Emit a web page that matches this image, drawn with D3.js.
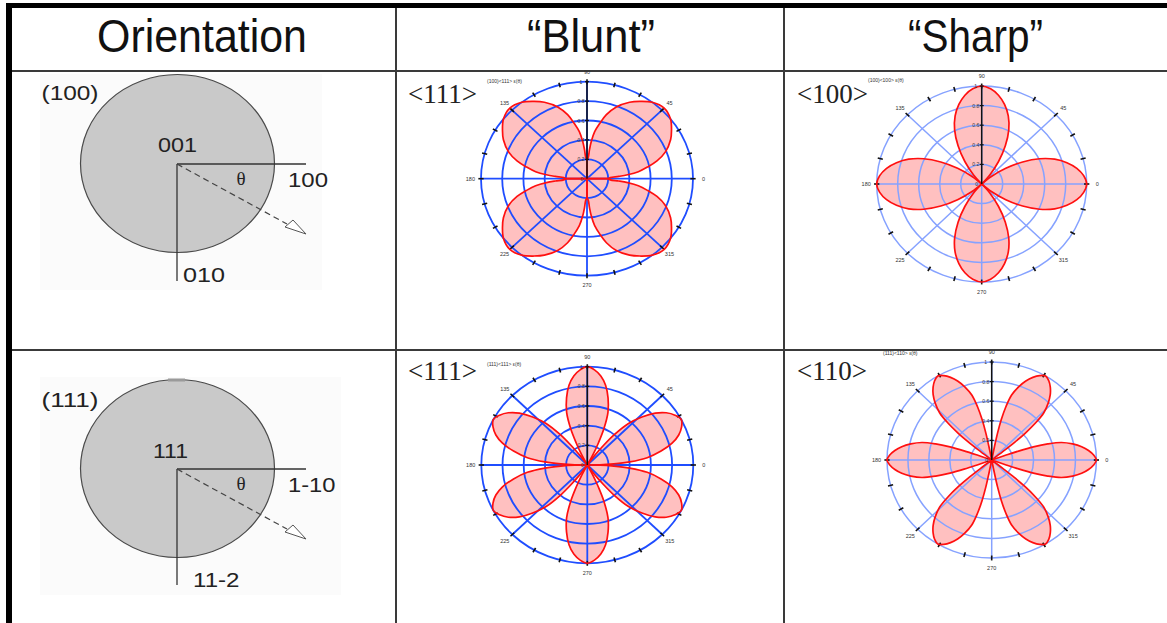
<!DOCTYPE html>
<html>
<head>
<meta charset="utf-8">
<script src="https://cdn.jsdelivr.net/npm/d3@7"></script>
<style>
  html, body { margin: 0; padding: 0; background: #fff; }
  svg { display: block; }
</style>
</head>
<body>
<svg id="chart" width="1167" height="623"></svg>
<script>
// ---- table text ----
const headers = ["Orientation", "\u201cBlunt\u201d", "\u201cSharp\u201d"];
const planeLabels = ["(100)", "(111)"];
const normalLabels = ["001", "111"];
const xDirLabels = ["100", "1-10"];
const yDirLabels = ["010", "11-2"];
const dirLabels = ["<111>", "<100>", "<111>", "<110>"];
const plotTitles = ["(100)<111> \u03b5(\u03b8)", "(100)<100> \u03b5(\u03b8)", "(111)<111> \u03b5(\u03b8)", "(111)<110> \u03b5(\u03b8)"];

// ---- polar axes ----
const angleTicks = [0, 45, 90, 135, 180, 225, 270, 315];
const minorAngles = [15, 30, 60, 75, 105, 120, 150, 165, 195, 210, 240, 255, 285, 300, 330, 345];
const radialTicks = [0.2, 0.4, 0.6, 0.8, 1];
const radialTickText = ["0.2", "0.4", "0.6", "0.8", "1"];

// ---- lobes: directions (deg) and half-profiles [offset deg, radius] ----
const bluntTopAxes = [45, 135, 225, 315];
const bluntTopProfile = [[0, 1.03], [7, 1.0], [13, 0.94], [18, 0.885], [24.5, 0.79], [29.5, 0.685], [33, 0.585], [36.5, 0.49], [39, 0.385], [40.5, 0.3], [42, 0.22], [45, 0.2]];
const sharpTopAxes = [0, 90, 180, 270];
const sharpTopProfile = [[0, 1.0], [5, 0.975], [10, 0.92], [15, 0.84], [20, 0.74], [25, 0.61], [30, 0.45], [35, 0.28], [40, 0.12], [45, 0]];
const bluntBotAxes = [27.5, 90, 152.5, 207.5, 270, 332.5];
const bluntBotProfile = [[0, 1.0], [4, 0.97], [8, 0.915], [12, 0.83], [16, 0.71], [20, 0.57], [23, 0.4], [25, 0.25], [27, 0.12], [28, 0]];
const sharpBotAxes = [0, 59, 121, 180, 239, 301];
const sharpBotProfile = [[0, 1.0], [3, 0.975], [6, 0.93], [9, 0.87], [12, 0.79], [15, 0.69], [17, 0.56], [18.5, 0.42], [19.5, 0.28], [20, 0.14], [20, 0]];

const svg = d3.select("#chart");
const sans = "Liberation Sans, Arial, sans-serif";

// ---- background ----
svg.append("rect").attr("x", 0).attr("y", 0).attr("width", 1167).attr("height", 623).attr("fill", "#fff");

// ---- orientation sketches ----
function orientation(i, oy) {
  const g = svg.append("g").attr("transform", `translate(0,${oy})`);
  const cx = 177, cy = 164;
  g.append("rect").attr("x", 40).attr("y", i === 0 ? 74 : 72).attr("width", i === 0 ? 282 : 301).attr("height", i === 0 ? 216 : 218)
    .attr("fill", "#fbfbfb");
  g.append("ellipse").attr("cx", cx + 0.5).attr("cy", 163.5)
    .attr("rx", 97).attr("ry", 89)
    .attr("fill", "#c9c9c9").attr("stroke", "#4a4a4a").attr("stroke-width", 1.2);
  if (i === 1) {
    g.append("rect").attr("x", 168).attr("y", 73.5).attr("width", 17).attr("height", 3).attr("fill", "#9a9a9a");
  }
  g.append("line").attr("x1", cx).attr("y1", cy).attr("x2", 306).attr("y2", cy).attr("stroke", "#333").attr("stroke-width", 1.3);
  g.append("line").attr("x1", cx).attr("y1", cy).attr("x2", cx).attr("y2", i === 0 ? 281 : 280).attr("stroke", "#333").attr("stroke-width", 1.3);
  g.append("line").attr("x1", cx).attr("y1", cy).attr("x2", 287).attr("y2", 224).attr("stroke", "#444").attr("stroke-width", 1.2).attr("stroke-dasharray", "6,4");
  g.append("path").attr("d", "M285,227 L293,220 L306,234 Z").attr("fill", "#fff").attr("stroke", "#555").attr("stroke-width", 1);
  const label = (txt, x, y, w, anchor) => g.append("text").attr("x", x).attr("y", y)
    .attr("text-anchor", anchor || "start")
    .attr("textLength", w).attr("lengthAdjust", "spacingAndGlyphs")
    .attr("font-family", sans).attr("font-size", 20).attr("fill", "#222").text(txt);
  label(planeLabels[i], 41.5, i === 0 ? 100 : 101.7, 57);
  label(normalLabels[i], i === 0 ? 158 : 153, i === 0 ? 151.7 : 153.3, i === 0 ? 39 : 35);
  g.append("text").attr("x", 241).attr("y", 185).attr("text-anchor", "middle").attr("font-family", "Liberation Serif, serif").attr("font-size", 19).attr("fill", "#222").text("\u03b8");
  label(xDirLabels[i], 288, i === 0 ? 186.7 : 186.7, i === 0 ? 40 : 47.5);
  label(yDirLabels[i], i === 0 ? 183 : 193, 281.7, i === 0 ? 42 : 46.5);
}
orientation(0, 0);
orientation(1, 305);

// ---- table rules ----
const lineColor = "#3a3a3a";
const grid = svg.append("g");
grid.append("line").attr("x1", 12).attr("x2", 1167).attr("y1", 71).attr("y2", 71).attr("stroke", lineColor).attr("stroke-width", 2);
grid.append("line").attr("x1", 12).attr("x2", 1167).attr("y1", 350).attr("y2", 350).attr("stroke", lineColor).attr("stroke-width", 2);
grid.append("line").attr("x1", 396).attr("x2", 396).attr("y1", 8).attr("y2", 623).attr("stroke", lineColor).attr("stroke-width", 2);
grid.append("line").attr("x1", 784).attr("x2", 784).attr("y1", 8).attr("y2", 623).attr("stroke", lineColor).attr("stroke-width", 2);
grid.append("rect").attr("x", 6).attr("y", 3).attr("width", 1161).attr("height", 5).attr("fill", "#000");
grid.append("rect").attr("x", 6).attr("y", 3).attr("width", 6).attr("height", 620).attr("fill", "#000");

// header row
const headerPos = [[202, 210], [591, 128], [975.5, 135]];
headers.forEach((h, i) => {
  svg.append("text")
    .attr("x", headerPos[i][0]).attr("y", 52)
    .attr("text-anchor", "middle")
    .attr("textLength", headerPos[i][1]).attr("lengthAdjust", "spacingAndGlyphs")
    .attr("font-family", sans)
    .attr("font-size", 47)
    .attr("fill", "#111")
    .text(h);
});

// ---- polar plots ----
function polarPlot(opt) {
  const g = svg.append("g");
  const xs = d3.scaleLinear().domain([-1, 1]).range([opt.cx - opt.rx, opt.cx + opt.rx]);
  const ys = d3.scaleLinear().domain([-1, 1]).range([opt.cy + opt.ry, opt.cy - opt.ry]);
  const rad = d => d * Math.PI / 180;
  const pt = (deg, r) => [xs(r * Math.cos(rad(deg))), ys(r * Math.sin(rad(deg)))];

  // lobe fills
  const line = d3.line().curve(d3.curveCatmullRom.alpha(0.5));
  const full = opt.profile.slice().reverse().map(([p, r]) => [-p, r]).concat(opt.profile.slice(1));
  const lobePaths = opt.axes.map(a => {
    const pts = full.map(([p, r]) => pt(a + p, r));
    let d = line(pts);
    if (opt.hub) d = `M${pt(0, 0).join(",")}L` + d.slice(1) + "Z";
    else d = d + "Z";
    return d;
  });
  g.selectAll("path.fill").data(lobePaths).join("path")
    .attr("d", d => d).attr("fill", "#ffc0c0").attr("stroke", "none");

  // grid rings
  g.selectAll("ellipse.ring").data(radialTicks).join("ellipse")
    .attr("cx", xs(0)).attr("cy", ys(0))
    .attr("rx", r => xs(r) - xs(0)).attr("ry", r => ys(0) - ys(r))
    .attr("fill", "none").attr("stroke", opt.grid).attr("stroke-width", opt.gw);
  // spokes
  g.selectAll("line.spoke").data(angleTicks).join("line")
    .attr("x1", xs(0)).attr("y1", ys(0))
    .attr("x2", a => pt(a, 1)[0]).attr("y2", a => pt(a, 1)[1])
    .attr("stroke", opt.grid).attr("stroke-width", opt.gw);
  // ticks on outer ring
  g.selectAll("line.minor").data(minorAngles.concat(angleTicks)).join("line")
    .attr("x1", a => pt(a, 0.975)[0]).attr("y1", a => pt(a, 0.975)[1])
    .attr("x2", a => pt(a, 1.025)[0]).attr("y2", a => pt(a, 1.025)[1])
    .attr("stroke", "#111").attr("stroke-width", 1.6);

  // lobe outlines
  g.selectAll("path.edge").data(lobePaths).join("path")
    .attr("d", d => d).attr("fill", "none").attr("stroke", "#ff1010").attr("stroke-width", 1.7).attr("stroke-linejoin", "round");

  // radial axis
  g.append("line").attr("x1", xs(0)).attr("y1", ys(0)).attr("x2", xs(0)).attr("y2", ys(1))
    .attr("stroke", "#111").attr("stroke-width", 1.5);
  g.selectAll("line.rt").data(radialTicks).join("line")
    .attr("x1", xs(0) - 2).attr("x2", xs(0) + 2).attr("y1", r => ys(r)).attr("y2", r => ys(r))
    .attr("stroke", "#111").attr("stroke-width", 1.2);
  g.selectAll("text.rt").data(radialTicks).join("text")
    .attr("x", xs(0) - 6).attr("y", r => ys(r) + 2)
    .attr("text-anchor", "middle").attr("font-family", sans).attr("font-size", 5).attr("fill", "#333")
    .text((r, i) => radialTickText[i]);
  g.append("text").attr("x", xs(0) - 5).attr("y", ys(0) + 2)
    .attr("text-anchor", "middle").attr("font-family", sans).attr("font-size", 5).attr("fill", "#333").text("0");

  // angle labels
  g.selectAll("text.ang").data(angleTicks).join("text")
    .attr("x", a => pt(a, 1.1)[0]).attr("y", a => pt(a, 1.1)[1] + 2)
    .attr("text-anchor", "middle").attr("font-family", sans).attr("font-size", 5.5).attr("fill", "#333")
    .text(a => a);

  // title and direction label
  g.append("text").attr("x", opt.tx).attr("y", opt.ty)
    .attr("font-family", sans).attr("font-size", 5).attr("fill", "#333").text(opt.title);
  g.append("text").attr("x", opt.lx).attr("y", opt.ly)
    .attr("font-family", "Liberation Serif, Times New Roman, serif").attr("font-size", 27).attr("fill", "#222").text(opt.label);
}

polarPlot({ cx: 587, cy: 178.7, rx: 106, ry: 97, axes: bluntTopAxes, profile: bluntTopProfile, hub: true,
  grid: "#1f4dff", gw: 1.8, title: plotTitles[0], tx: 487, ty: 83, label: dirLabels[0], lx: 408, ly: 103 });
polarPlot({ cx: 981.7, cy: 184, rx: 105, ry: 98, axes: sharpTopAxes, profile: sharpTopProfile, hub: false,
  grid: "#86a2ff", gw: 1.5, title: plotTitles[1], tx: 868, ty: 82, label: dirLabels[1], lx: 797, ly: 103 });
polarPlot({ cx: 587.3, cy: 465, rx: 106, ry: 98.3, axes: bluntBotAxes, profile: bluntBotProfile, hub: false,
  grid: "#1f4dff", gw: 1.8, title: plotTitles[2], tx: 487, ty: 366, label: dirLabels[2], lx: 408, ly: 380 });
polarPlot({ cx: 991.7, cy: 460, rx: 104.7, ry: 98, axes: sharpBotAxes, profile: sharpBotProfile, hub: false,
  grid: "#86a2ff", gw: 1.5, title: plotTitles[3], tx: 883, ty: 355, label: dirLabels[3], lx: 797, ly: 380 });
</script>
</body>
</html>
